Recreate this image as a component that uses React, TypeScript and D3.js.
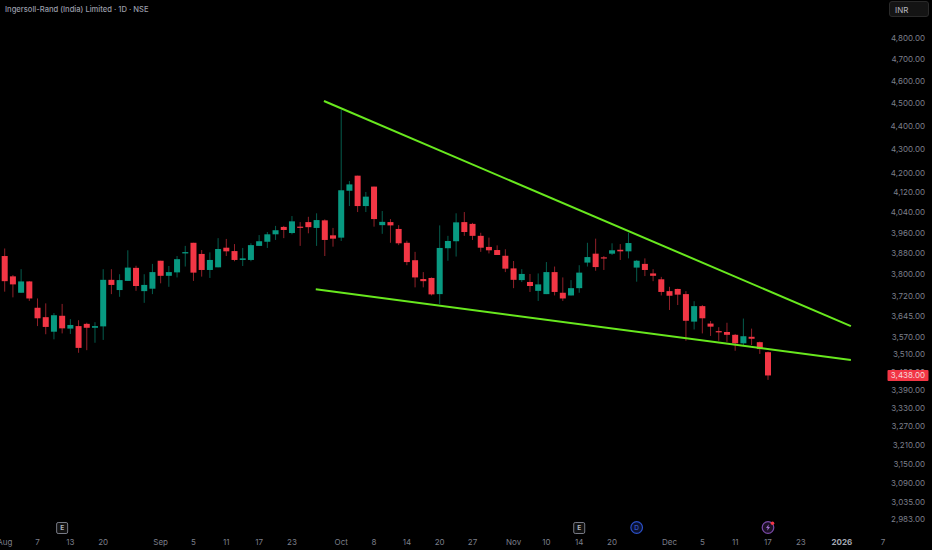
import * as d3 from 'd3';

const WIDTH = 932;
const HEIGHT = 550;
const BAR_WIDTH = 6;

const UP = '#089981';
const DOWN = '#f23645';
const LINE = '#68e81e';
const AXIS_TEXT = '#7c7f8a';
const FONT = 'Inter, "Noto Sans", sans-serif';

const TITLE = 'Ingersoll-Rand (India) Limited · 1D · NSE';

const opens = [
  3869, 3792, 3731, 3773, 3676, 3642, 3590, 3647, 3601, 3610,
  3618, 3604, 3609, 3779, 3741, 3775, 3824, 3737, 3746, 3851,
  3794, 3807, 3879, 3920, 3877, 3816, 3826, 3901, 3888, 3854,
  3854, 3908, 3924, 3953, 3982, 3958, 3983, 4001, 3978, 4008,
  3949, 3940, 4127, 4189, 4065, 4144, 3989, 4001, 3974, 3920,
  3853, 3782, 3786, 3726, 3899, 3926, 4001, 3994, 3947, 3904,
  3892, 3870, 3822, 3778, 3771, 3738, 3726, 3808, 3731, 3721,
  3748, 3844, 3878, 3864, 3878, 3893, 3887, 3825, 3839, 3803,
  3781, 3737, 3745, 3726, 3626, 3682, 3619, 3592, 3589, 3579,
  3549, 3572, 3553, 3518,
];
const closes = [
  3774, 3762, 3773, 3710, 3638, 3607, 3649, 3602, 3614, 3533,
  3604, 3610, 3779, 3760, 3778, 3825, 3756, 3760, 3808, 3794,
  3808, 3857, 3884, 3806, 3816, 3854, 3896, 3887, 3854, 3860,
  3911, 3926, 3953, 3969, 3970, 4004, 3979, 3981, 4009, 3931,
  3936, 4129, 4153, 4065, 4103, 4013, 4002, 3988, 3918, 3846,
  3788, 3774, 3725, 3900, 3927, 4000, 3962, 3947, 3901, 3891,
  3873, 3821, 3779, 3801, 3756, 3762, 3808, 3734, 3710, 3748,
  3806, 3865, 3827, 3860, 3891, 3887, 3919, 3851, 3816, 3794,
  3734, 3720, 3724, 3629, 3682, 3638, 3608, 3588, 3579, 3549,
  3574, 3565, 3529, 3438,
];
const highs = [
  3898, 3797, 3819, 3774, 3710, 3692, 3657, 3690, 3635, 3631,
  3622, 3624, 3819, 3819, 3800, 3891, 3832, 3800, 3839, 3851,
  3831, 3869, 3908, 3920, 3892, 3883, 3938, 3935, 3915, 3900,
  3918, 3950, 3962, 3986, 3986, 4025, 4001, 4022, 4036, 4012,
  3978, 4470, 4167, 4189, 4122, 4144, 4045, 4013, 3989, 3928,
  3885, 3808, 3788, 3988, 3947, 4036, 4041, 3998, 3959, 3940,
  3910, 3895, 3850, 3819, 3801, 3803, 3846, 3829, 3788, 3778,
  3834, 3920, 3936, 3869, 3918, 3915, 3959, 3854, 3860, 3819,
  3790, 3753, 3746, 3737, 3700, 3686, 3628, 3606, 3622, 3582,
  3637, 3601, 3555, 3520,
];
const lows = [
  3735, 3714, 3731, 3701, 3610, 3581, 3563, 3584, 3582, 3516,
  3525, 3551, 3561, 3726, 3716, 3775, 3738, 3694, 3726, 3766,
  3753, 3788, 3829, 3775, 3791, 3786, 3826, 3869, 3849, 3831,
  3849, 3908, 3900, 3931, 3938, 3953, 3908, 3957, 3908, 3869,
  3905, 3927, 4065, 4041, 4041, 3983, 3955, 3920, 3911, 3834,
  3751, 3751, 3721, 3690, 3851, 3867, 3947, 3931, 3885, 3879,
  3873, 3808, 3748, 3771, 3734, 3701, 3726, 3721, 3701, 3721,
  3731, 3829, 3813, 3816, 3873, 3854, 3860, 3772, 3793, 3774,
  3721, 3668, 3686, 3558, 3598, 3584, 3575, 3558, 3554, 3523,
  3539, 3543, 3512, 3423,
];

// price axis labels (3,450 sits behind the last price tag)
const priceTicks = [
  4800, 4700, 4600, 4500, 4400, 4300, 4200, 4120, 4040, 3960, 3880, 3800, 3720,
  3645, 3570, 3510, 3450, 3390, 3330, 3270, 3210, 3150, 3090, 3035, 2983,
];
const LAST_PRICE = 3438;

// time axis, position counted in trading bars from the first candle
const timeLabels = ['Aug', '7', '13', '20', 'Sep', '5', '11', '17', '23', 'Oct', '8', '14', '20', '27', 'Nov', '10', '14', '20', 'Dec', '5', '11', '17', '23', '2026', '7'];
const timeBars = [0, 4, 8, 12, 19, 23, 27, 31, 35, 41, 45, 49, 53, 57, 62, 66, 70, 74, 81, 85, 89, 93, 97, 102, 107];

// trend lines: [bar, price] at both ends
const upperLine = [[38.9, 4510], [103.1, 3610]];
const lowerLine = [[37.9, 3744], [103.1, 3491]];

const earningsBars = [7, 70];
const dividendBar = 77;
const flashBar = 93;

const App = () => {
  const xScale = d3.scaleLinear().domain([0, 93]).range([4.7, 768]);
  const yScale = d3.scaleLog().domain([2983, 4800]).range([519, 38]);

  const trend = d3
    .line<number[]>()
    .x((d) => xScale(d[0]))
    .y((d) => yScale(d[1]));

  const priceFormat = d3.format(',.2f');

  const candles = opens.map((open, i) => {
    const close = closes[i];
    const color = close >= open ? UP : DOWN;
    const x = xScale(i);
    const top = yScale(Math.max(open, close));
    const bottom = yScale(Math.min(open, close));
    return (
      <g key={i}>
        <line x1={x} x2={x} y1={yScale(highs[i])} y2={yScale(lows[i])} stroke={color} strokeOpacity={0.6} />
        <rect x={x - BAR_WIDTH / 2} y={top} width={BAR_WIDTH} height={Math.max(bottom - top, 1.2)} fill={color} />
      </g>
    );
  });

  const yAxis = priceTicks.map((p) => (
    <text key={p} x={925} y={yScale(p)} textAnchor="end" dominantBaseline="central" fontSize={8} fill={AXIS_TEXT}>
      {priceFormat(p)}
    </text>
  ));

  const xAxis = timeLabels.map((label, i) => (
    <text
      key={i}
      x={xScale(timeBars[i])}
      y={542}
      textAnchor="middle"
      dominantBaseline="central"
      fontSize={8}
      fontWeight={label === '2026' ? 700 : 400}
      fill={label === '2026' ? '#a5a8b3' : AXIS_TEXT}
    >
      {label}
    </text>
  ));

  const flashX = xScale(flashBar);

  return (
    <svg
      width={WIDTH}
      height={HEIGHT}
      fontFamily={FONT}
      style={{ position: 'absolute', left: 0, top: 0, display: 'block', background: '#000' }}
    >
      <text x={5} y={9} dominantBaseline="central" fontSize={7.6} fontWeight={500} fill="#9a9da8">
        {TITLE}
      </text>

      {candles}

      <path d={trend(upperLine) ?? ''} fill="none" stroke={LINE} strokeWidth={2} />
      <path d={trend(lowerLine) ?? ''} fill="none" stroke={LINE} strokeWidth={2} />

      {yAxis}
      {xAxis}

      {/* currency box */}
      <rect x={889.5} y={1.5} width={39} height={15} rx={2.5} fill="#141414" stroke="#2a2a2a" />
      <text x={895} y={9.5} dominantBaseline="central" fontSize={8} fill="#b4b7c0">
        INR
      </text>

      {/* last price tag */}
      <rect x={887.5} y={yScale(LAST_PRICE) - 5.5} width={41} height={11} rx={1} fill={DOWN} />
      <text x={925} y={yScale(LAST_PRICE)} textAnchor="end" dominantBaseline="central" fontSize={8} fill="#f5d5d8">
        {priceFormat(LAST_PRICE)}
      </text>

      {/* event markers */}
      {earningsBars.map((b) => (
        <g key={b}>
          <rect x={xScale(b) - 5.5} y={522.5} width={11} height={11} rx={1.5} fill="#111" stroke="#787b86" />
          <text x={xScale(b)} y={528} textAnchor="middle" dominantBaseline="central" fontSize={6.5} fontWeight={700} fill="#b2b5be">
            E
          </text>
        </g>
      ))}
      <circle cx={xScale(dividendBar)} cy={527.5} r={5.8} fill="#0b1230" stroke="#2b50c8" strokeWidth={1.2} />
      <text x={xScale(dividendBar)} y={527.5} textAnchor="middle" dominantBaseline="central" fontSize={6.5} fill="#3f66e0">
        D
      </text>
      <circle cx={flashX} cy={527.5} r={5.8} fill="#1c1026" stroke="#7a4aa8" strokeWidth={1.2} />
      <path
        d="M0.8,-3.2 L-2,0.6 L-0.3,0.6 L-0.8,3.2 L2,-0.6 L0.3,-0.6 Z"
        transform={`translate(${flashX},527.5)`}
        fill="#a06fd0"
      />
      <circle cx={flashX + 4.5} cy={523.3} r={1.8} fill={DOWN} />
    </svg>
  );
};

export default App;
